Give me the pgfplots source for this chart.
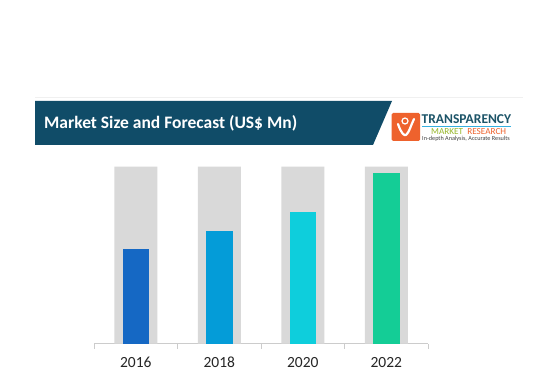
\documentclass[border=0pt]{standalone}
\usepackage{pgfplots}
\pgfplotsset{compat=1.18}
\usepackage{fontspec}
\setmainfont{Carlito}
\definecolor{banner}{RGB}{16,76,104}
\definecolor{barbg}{RGB}{217,217,217}
\definecolor{cA}{RGB}{21,104,196}
\definecolor{cB}{RGB}{4,156,216}
\definecolor{cC}{RGB}{14,206,220}
\definecolor{cD}{RGB}{20,205,150}
\definecolor{logoorange}{RGB}{238,98,45}
\definecolor{logoteal}{RGB}{28,84,104}
\definecolor{logogreen}{RGB}{150,182,40}
\begin{document}
\begin{tikzpicture}[x=1pt,y=1pt]
\fill[white] (0pt,0pt) rectangle (546pt,391pt);
% faint line above banner
\draw[gray!12,line width=1pt] (35,293.5) -- (523,293.5);
% banner
\fill[banner] (35,290) -- (392,290) -- (373,246) -- (35,246) -- cycle;
\node[anchor=west,text=white,font=\bfseries\fontsize{17.5}{20}\selectfont,inner sep=0pt] at (44,267.5) {Market Size and Forecast (US\$ Mn)};
% logo
\fill[logoorange,rounded corners=1.5pt] (391.5,250) rectangle (420,278);
\draw[white,line width=2.2pt,line cap=round,line join=round] (398,267) .. controls (401,258) and (404,255) .. (406,256) .. controls (409,258) and (411,266) .. (414,272);
\draw[white,line width=1.2pt] (405,270) circle (3pt);
\node[anchor=south west,inner sep=0pt,text=logoteal,font=\bfseries\fontsize{13.5}{14}\selectfont] at (421.5,267) {TRANSPARENCY};
\draw[cB!80,line width=0.6pt] (422,264.5) -- (511,264.5);
\node[anchor=south west,inner sep=0pt,font=\fontsize{9.2}{10}\selectfont] at (431,256.5) {\textcolor{logogreen}{MARKET}\ \ \textcolor{logoorange}{RESEARCH}};
\node[anchor=south west,inner sep=0pt,text=black!75,font=\fontsize{6.2}{7}\selectfont] at (422,249) {In-depth Analysis, Accurate Results};
\begin{axis}[
  at={(94pt,47.5pt)}, anchor=origin,
  scale only axis, width=334pt, height=176.8pt,
  xmin=0, xmax=4, ymin=0, ymax=100,
  axis x line=bottom, axis y line=none,
  x axis line style={-, draw=gray!40, line width=0.8pt},
  xtick={0.5,1.5,2.5,3.5},
  xticklabels={2016,2018,2020,2022},
  major tick length=0pt,
  extra x ticks={0,1,2,3,4},
  extra x tick labels={},
  extra x tick style={major tick length=5pt, tick align=outside, tick style={draw=gray!40, line width=0.8pt}},
  ytick=\empty,
  tick label style={font=\fontsize{15.5}{17}\selectfont, text=black!85},
  x tick label style={yshift=-10pt},
  clip=false,
]
\addplot[ybar, bar width=43pt, bar shift=0pt, fill=barbg, draw=none] coordinates {(0.5,100) (1.5,100) (2.5,100) (3.5,100)};
\addplot[ybar, bar width=26.5pt, bar shift=0pt, fill=cA, draw=none] coordinates {(0.5,53.3)};
\addplot[ybar, bar width=26.5pt, bar shift=0pt, fill=cB, draw=none] coordinates {(1.5,63.8)};
\addplot[ybar, bar width=26.5pt, bar shift=0pt, fill=cC, draw=none] coordinates {(2.5,74.5)};
\addplot[ybar, bar width=26.5pt, bar shift=0pt, fill=cD, draw=none] coordinates {(3.5,96.3)};
\end{axis}
\end{tikzpicture}
\end{document}
